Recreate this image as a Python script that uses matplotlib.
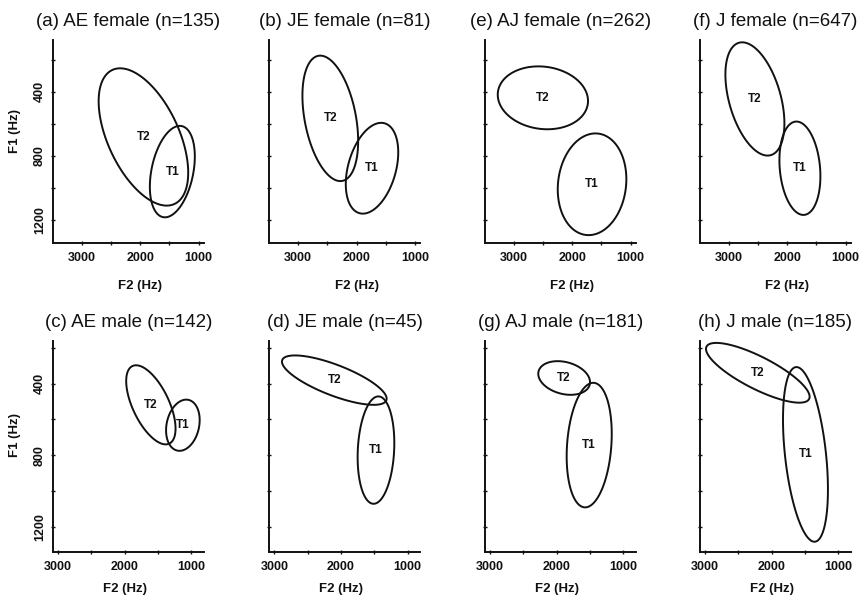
import numpy as np
import matplotlib
matplotlib.use("Agg")
import matplotlib.pyplot as plt
from matplotlib.patches import Polygon

plt.rcParams['font.family'] = ['Liberation Sans', 'DejaVu Sans']

titles = ["(a) AE female (n=135)", "(b) JE female (n=81)", "(e) AJ female (n=262)", "(f) J female (n=647)",
          "(c) AE male (n=142)", "(d) JE male (n=45)", "(g) AJ male (n=181)", "(h) J male (n=185)"]

# Ellipse parameters: centre F2, centre F1, half-range F2, half-range F1, correlation
t1_f2 = [1451, 1735, 1661, 1783, 1127, 1475, 1512, 1493]
t1_f1 = [898, 877, 977, 877, 633, 772, 744, 796]
t1_hf2 = [384, 448, 586, 350, 252, 275, 338, 337]
t1_hf1 = [285, 283, 317, 291, 143, 300, 348, 488]
t1_r = [0.33, 0.35, 0.10, -0.17, 0.20, 0.13, 0.18, -0.40]

t2_f2 = [1945, 2448, 2501, 2552, 1607, 2100, 1888, 2208]
t2_f1 = [682, 566, 438, 445, 519, 381, 369, 340]
t2_hf2 = [765, 476, 771, 504, 370, 785, 388, 777]
t2_hf1 = [428, 391, 196, 353, 221, 138, 94, 167]
t2_r = [-0.52, -0.36, -0.10, -0.43, -0.60, -0.75, -0.25, -0.80]

xticks = [3000, 2000, 1000]
xminor = [2500, 1500]
yticks = [400, 800, 1200]
yminor = [200, 600, 1000]

fig = plt.figure(figsize=(8.67, 6.0), dpi=100)

lefts = [53, 269.3, 485, 700]
W = 867.0
H = 600.0
rows = [
    dict(bottom=243.3, top=40.4, xlim=(3490, 910), ylim=(1345, 80), xlab=-0.18),
    dict(bottom=552.1, top=341.3, xlim=(3075, 810), ylim=(1342, 164), xlab=-0.148),
]

t = np.linspace(0, 2 * np.pi, 400, endpoint=False)
col = '#111111'

def ell(cx, cy, hx, hy, r):
    x = cx + hx * np.cos(t)
    y = cy + hy * (r * np.cos(t) + np.sqrt(1 - r * r) * np.sin(t))
    return np.column_stack([x, y])

for i in range(8):
    row = rows[i // 4]
    c = i % 4
    ax = fig.add_axes([lefts[c] / W, (H - row['bottom']) / H, 151 / W,
                       (row['bottom'] - row['top']) / H])
    ax.set_xlim(*row['xlim'])
    ax.set_ylim(*row['ylim'])
    for s in ['top', 'right']:
        ax.spines[s].set_visible(False)
    for s in ['left', 'bottom']:
        ax.spines[s].set_linewidth(1.4)
        ax.spines[s].set_color(col)
    ax.set_xticks(xticks)
    ax.set_xticks(xminor, minor=True)
    ax.set_yticks(yticks)
    ax.set_yticks(yminor, minor=True)
    ax.tick_params(which='both', direction='inout', length=3, width=1, color=col,
                   labelsize=9, labelcolor=col)
    ax.tick_params(axis='x', pad=5)
    ax.set_xticklabels([str(v) for v in xticks], fontweight='bold')
    if c == 0:
        ax.set_yticklabels([str(v) for v in yticks], rotation=90, va='center',
                           fontweight='bold')
        ax.set_ylabel("F1 (Hz)", fontsize=9.5, color=col, fontweight='bold')
        ax.yaxis.set_label_coords(-0.21, 0.555)
    else:
        ax.set_yticklabels([])
    ax.set_xlabel("F2 (Hz)", fontsize=9.5, color=col, fontweight='bold')
    x0, x1 = row['xlim']
    ax.xaxis.set_label_coords((x0 - 2000) / (x0 - x1), row['xlab'])
    ax.set_title(titles[i], fontsize=13.5, pad=10.5, color=col)

    ax.add_patch(Polygon(ell(t1_f2[i], t1_f1[i], t1_hf2[i], t1_hf1[i], t1_r[i]),
                         closed=True, fill=False, edgecolor=col, lw=1.4))
    ax.text(t1_f2[i], t1_f1[i], "T1", fontsize=8.5, ha='center', va='center',
            color=col, fontweight='bold')
    ax.add_patch(Polygon(ell(t2_f2[i], t2_f1[i], t2_hf2[i], t2_hf1[i], t2_r[i]),
                         closed=True, fill=False, edgecolor=col, lw=1.4))
    ax.text(t2_f2[i], t2_f1[i], "T2", fontsize=8.5, ha='center', va='center',
            color=col, fontweight='bold')

fig.savefig("out.png", dpi=100)
